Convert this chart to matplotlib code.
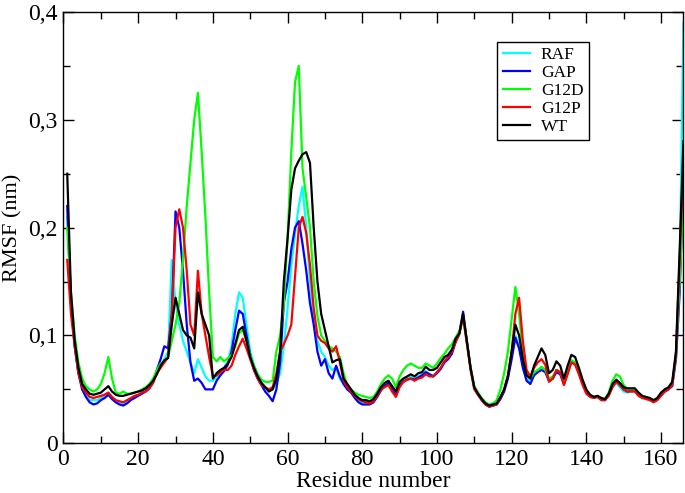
import matplotlib
matplotlib.use("Agg")
import matplotlib.pyplot as plt
from matplotlib.ticker import MultipleLocator, FuncFormatter

plt.rcParams["font.family"] = ["Liberation Serif", "DejaVu Serif"]

residues = list(range(1, 167))

raf = [
    0.21, 0.13, 0.09, 0.065, 0.05, 0.044, 0.040, 0.040, 0.040, 0.042,
    0.045, 0.047, 0.043, 0.040, 0.038, 0.037, 0.039, 0.041, 0.043, 0.045,
    0.047, 0.049, 0.052, 0.058, 0.066, 0.072, 0.078, 0.085, 0.170, 0.130,
    0.110, 0.095, 0.085, 0.075, 0.065, 0.078, 0.070, 0.062, 0.058, 0.058,
    0.062, 0.066, 0.070, 0.076, 0.090, 0.120, 0.140, 0.135, 0.110, 0.085,
    0.072, 0.064, 0.057, 0.052, 0.050, 0.050, 0.055, 0.065, 0.090, 0.125,
    0.165, 0.195, 0.220, 0.238, 0.200, 0.150, 0.115, 0.095, 0.085, 0.080,
    0.072, 0.068, 0.070, 0.060, 0.055, 0.050, 0.048, 0.043, 0.040, 0.038,
    0.038, 0.038, 0.040, 0.045, 0.050, 0.054, 0.055, 0.050, 0.045, 0.055,
    0.058, 0.060, 0.062, 0.060, 0.062, 0.064, 0.067, 0.064, 0.063, 0.066,
    0.070, 0.076, 0.080, 0.085, 0.095, 0.102, 0.118, 0.095, 0.070, 0.052,
    0.046, 0.041, 0.037, 0.034, 0.035, 0.037, 0.042, 0.050, 0.062, 0.080,
    0.100, 0.090, 0.072, 0.060, 0.057, 0.065, 0.068, 0.070, 0.068, 0.058,
    0.060, 0.068, 0.066, 0.055, 0.066, 0.076, 0.074, 0.066, 0.056, 0.048,
    0.043, 0.042, 0.043, 0.040, 0.040, 0.045, 0.052, 0.056, 0.052, 0.048,
    0.047, 0.048, 0.048, 0.044, 0.042, 0.042, 0.040, 0.039, 0.041, 0.045,
    0.049, 0.051, 0.055, 0.080, 0.160, 0.390,
]

gap = [
    0.22, 0.13, 0.09, 0.065, 0.05, 0.043, 0.038, 0.036, 0.037, 0.040,
    0.042, 0.045, 0.041, 0.038, 0.036, 0.035, 0.037, 0.040, 0.042, 0.044,
    0.046, 0.048, 0.051, 0.057, 0.068, 0.078, 0.090, 0.088, 0.120, 0.215,
    0.200, 0.160, 0.110, 0.075, 0.058, 0.060, 0.056, 0.050, 0.050, 0.050,
    0.058, 0.063, 0.067, 0.073, 0.085, 0.105, 0.123, 0.120, 0.100, 0.082,
    0.068, 0.060, 0.054, 0.048, 0.044, 0.039, 0.050, 0.075, 0.130, 0.150,
    0.180, 0.200, 0.206, 0.185, 0.160, 0.130, 0.110, 0.085, 0.072, 0.078,
    0.065, 0.060, 0.072, 0.062, 0.055, 0.050, 0.047, 0.042, 0.038, 0.036,
    0.036, 0.036, 0.038, 0.043, 0.049, 0.053, 0.056, 0.050, 0.044, 0.054,
    0.057, 0.059, 0.060, 0.059, 0.061, 0.063, 0.066, 0.064, 0.062, 0.065,
    0.069, 0.075, 0.078, 0.083, 0.094, 0.102, 0.122, 0.095, 0.070, 0.051,
    0.045, 0.040, 0.036, 0.034, 0.035, 0.036, 0.041, 0.048, 0.060, 0.078,
    0.098, 0.088, 0.070, 0.058, 0.055, 0.063, 0.066, 0.068, 0.066, 0.058,
    0.060, 0.066, 0.064, 0.055, 0.066, 0.076, 0.074, 0.066, 0.056, 0.048,
    0.044, 0.043, 0.043, 0.041, 0.040, 0.045, 0.053, 0.058, 0.054, 0.050,
    0.048, 0.049, 0.049, 0.045, 0.043, 0.042, 0.041, 0.039, 0.041, 0.045,
    0.048, 0.050, 0.053, 0.078, 0.140, 0.250,
]

g12d = [
    0.20, 0.14, 0.10, 0.075, 0.06, 0.053, 0.050, 0.048, 0.050, 0.055,
    0.065, 0.080, 0.060, 0.047, 0.046, 0.048, 0.046, 0.046, 0.047, 0.048,
    0.050, 0.052, 0.055, 0.060, 0.068, 0.074, 0.075, 0.080, 0.095, 0.110,
    0.130, 0.170, 0.220, 0.260, 0.300, 0.325, 0.270, 0.210, 0.140, 0.080,
    0.076, 0.080, 0.076, 0.079, 0.082, 0.090, 0.102, 0.105, 0.095, 0.082,
    0.072, 0.064, 0.059, 0.057, 0.057, 0.058, 0.085, 0.100, 0.130, 0.190,
    0.270, 0.335, 0.350, 0.255, 0.228, 0.200, 0.150, 0.118, 0.100, 0.095,
    0.090, 0.088, 0.085, 0.080, 0.065, 0.053, 0.050, 0.047, 0.045, 0.044,
    0.043, 0.042, 0.043, 0.048, 0.055, 0.060, 0.063, 0.060, 0.052, 0.062,
    0.068, 0.072, 0.074, 0.072, 0.070, 0.070, 0.074, 0.072, 0.070, 0.074,
    0.079, 0.083, 0.088, 0.092, 0.098, 0.104, 0.116, 0.093, 0.070, 0.053,
    0.047, 0.042, 0.038, 0.036, 0.037, 0.040, 0.050, 0.065, 0.085, 0.115,
    0.145, 0.120, 0.085, 0.065, 0.060, 0.066, 0.068, 0.071, 0.068, 0.060,
    0.062, 0.068, 0.066, 0.057, 0.068, 0.077, 0.075, 0.067, 0.057, 0.049,
    0.045, 0.043, 0.044, 0.042, 0.041, 0.047, 0.058, 0.064, 0.062, 0.054,
    0.050, 0.050, 0.050, 0.046, 0.043, 0.042, 0.041, 0.040, 0.041, 0.046,
    0.050, 0.051, 0.056, 0.082, 0.150, 0.230,
]

g12p = [
    0.17, 0.12, 0.09, 0.065, 0.052, 0.047, 0.043, 0.042, 0.043, 0.044,
    0.045, 0.047, 0.043, 0.040, 0.039, 0.038, 0.040, 0.042, 0.044, 0.045,
    0.047, 0.048, 0.051, 0.056, 0.065, 0.070, 0.075, 0.080, 0.120, 0.200,
    0.217, 0.200, 0.160, 0.110, 0.100, 0.160, 0.120, 0.100, 0.080, 0.062,
    0.063, 0.066, 0.068, 0.068, 0.072, 0.082, 0.090, 0.097, 0.088, 0.078,
    0.068, 0.060, 0.054, 0.052, 0.050, 0.052, 0.065, 0.085, 0.092, 0.100,
    0.110, 0.155, 0.200, 0.210, 0.195, 0.165, 0.125, 0.100, 0.095, 0.093,
    0.088, 0.085, 0.090, 0.075, 0.058, 0.052, 0.048, 0.044, 0.041, 0.039,
    0.038, 0.037, 0.039, 0.044, 0.050, 0.052, 0.054, 0.048, 0.043, 0.052,
    0.057, 0.059, 0.060, 0.058, 0.060, 0.061, 0.064, 0.062, 0.062, 0.066,
    0.070, 0.076, 0.080, 0.085, 0.094, 0.101, 0.118, 0.093, 0.068, 0.050,
    0.045, 0.040, 0.036, 0.034, 0.035, 0.036, 0.042, 0.050, 0.063, 0.085,
    0.120, 0.135, 0.095, 0.068, 0.062, 0.070, 0.075, 0.078, 0.073, 0.057,
    0.060, 0.068, 0.066, 0.054, 0.064, 0.075, 0.073, 0.064, 0.054, 0.046,
    0.043, 0.042, 0.043, 0.040, 0.040, 0.044, 0.052, 0.057, 0.054, 0.050,
    0.048, 0.048, 0.048, 0.044, 0.042, 0.041, 0.040, 0.038, 0.040, 0.044,
    0.048, 0.050, 0.054, 0.082, 0.170, 0.260,
]

wt = [
    0.25, 0.14, 0.095, 0.07, 0.055, 0.05, 0.046, 0.045, 0.046, 0.047,
    0.050, 0.053, 0.048, 0.045, 0.044, 0.044, 0.045, 0.046, 0.047, 0.048,
    0.049, 0.051, 0.054, 0.058, 0.064, 0.072, 0.077, 0.079, 0.110, 0.135,
    0.120, 0.105, 0.100, 0.098, 0.088, 0.140, 0.120, 0.110, 0.100, 0.060,
    0.065, 0.068, 0.070, 0.074, 0.080, 0.092, 0.105, 0.108, 0.095, 0.080,
    0.070, 0.062, 0.056, 0.052, 0.048, 0.050, 0.060, 0.085, 0.150, 0.190,
    0.235, 0.255, 0.262, 0.268, 0.270, 0.260, 0.200, 0.150, 0.120, 0.105,
    0.090, 0.075, 0.077, 0.078, 0.060, 0.055, 0.050, 0.045, 0.042, 0.040,
    0.040, 0.039, 0.041, 0.046, 0.052, 0.056, 0.058, 0.053, 0.048, 0.057,
    0.060, 0.062, 0.064, 0.062, 0.065, 0.066, 0.071, 0.068, 0.068, 0.070,
    0.075, 0.080, 0.082, 0.087, 0.097, 0.102, 0.120, 0.095, 0.070, 0.052,
    0.046, 0.041, 0.037, 0.035, 0.036, 0.037, 0.043, 0.050, 0.062, 0.085,
    0.110, 0.100, 0.078, 0.063, 0.060, 0.072, 0.080, 0.088, 0.082, 0.065,
    0.068, 0.076, 0.072, 0.060, 0.072, 0.082, 0.080, 0.070, 0.059, 0.050,
    0.045, 0.043, 0.044, 0.042, 0.041, 0.046, 0.055, 0.059, 0.056, 0.052,
    0.051, 0.051, 0.051, 0.047, 0.044, 0.043, 0.042, 0.040, 0.042, 0.047,
    0.050, 0.052, 0.057, 0.085, 0.180, 0.280,
]

labels = ["RAF", "GAP", "G12D", "G12P", "WT"]
colors = ["#00ffff", "#0000ff", "#00ff00", "#ff0000", "#000000"]

fig = plt.figure(figsize=(6.85, 4.93), dpi=100)
ax = fig.add_axes([0.0927, 0.1008, 0.905, 0.875])

for vals, lab, col in zip([raf, gap, g12d, g12p, wt], labels, colors):
    ax.plot(residues, vals, color=col, lw=1.6, label=lab)

ax.set_xlim(0, 166)
ax.set_ylim(0, 0.4)
ax.xaxis.set_major_locator(MultipleLocator(20))
ax.xaxis.set_minor_locator(MultipleLocator(10))
ax.yaxis.set_major_locator(MultipleLocator(0.1))
ax.yaxis.set_minor_locator(MultipleLocator(0.05))
ax.yaxis.set_major_formatter(FuncFormatter(lambda v, p: "0" if abs(v) < 1e-9 else f"{v:.1f}".replace(".", ",")))

ax.tick_params(which="both", direction="in", top=True, right=True, labelsize=17, width=1)
ax.tick_params(which="major", length=8, pad=4)
ax.tick_params(which="minor", length=5)
for s in ax.spines.values():
    s.set_linewidth(1)

ax.set_xlabel("Residue number", fontsize=17, labelpad=1)
ax.set_ylabel("RMSF (nm)", fontsize=16, labelpad=4)

leg = ax.legend(loc="upper left", bbox_to_anchor=(0.70, 0.931), borderaxespad=0,
                fontsize=12.5, labelspacing=0.1, handlelength=1.6, handletextpad=0.6,
                borderpad=0.3, fancybox=False, framealpha=1)
leg.get_frame().set_edgecolor("black")
leg.get_frame().set_linewidth(1)

fig.savefig("out.png", dpi=100)
